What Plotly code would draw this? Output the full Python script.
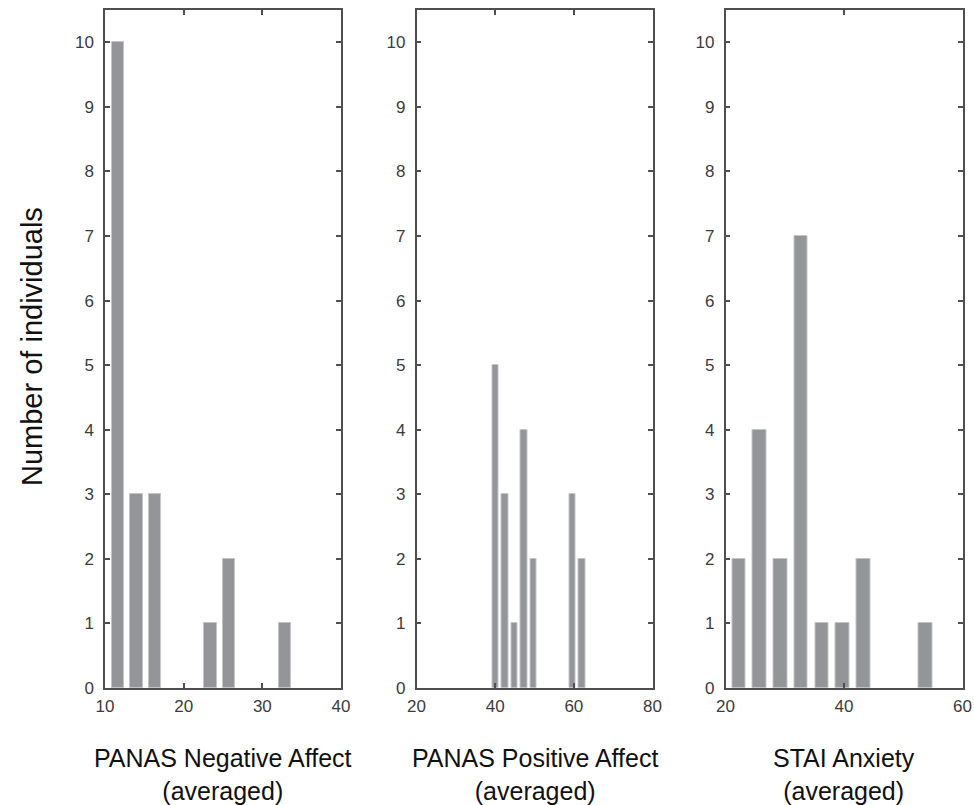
import plotly.graph_objects as go

# Histogram bins (bin centres) and counts for each questionnaire score
neg_centers = [11.65, 14.00, 16.36, 18.71, 21.06, 23.41, 25.77, 28.12, 30.47, 32.83]
neg_counts = [10, 3, 3, 0, 0, 1, 2, 0, 0, 1]
neg_bin_width = 2.35

pos_centers = [40.02, 42.47, 44.92, 47.37, 49.82, 52.27, 54.72, 57.17, 59.62, 62.07]
pos_counts = [5, 3, 1, 4, 2, 0, 0, 0, 3, 2]
pos_bin_width = 2.45

stai_centers = [22.30, 25.79, 29.28, 32.77, 36.26, 39.75, 43.24, 46.73, 50.22, 53.71]
stai_counts = [2, 4, 2, 7, 1, 1, 2, 0, 0, 1]
stai_bin_width = 3.49

x_titles = ["PANAS Negative Affect<br>(averaged)",
            "PANAS Positive Affect<br>(averaged)",
            "STAI Anxiety<br>(averaged)"]
x_ranges = [[10, 40], [20, 80], [20, 60]]
x_dticks = [10, 20, 20]
y_title = "Number of individuals"

W, H = 974, 805
BAR_COLOR = "#939598"
EDGE_COLOR = "#c4c5c7"
AXIS_COLOR = "#4f4f4f"
FONT = "Liberation Sans, Arial, sans-serif"
TICK_FONT = dict(family=FONT, size=17, color="#3c3c3c")

# panel placement in pixels (left, right), shared bottom/top
panel_px = [(105, 341), (416.5, 652.5), (725.5, 962.5)]
bottom_px, top_px = 688, 10

fig = go.Figure()
series = [(neg_centers, neg_counts, neg_bin_width),
          (pos_centers, pos_counts, pos_bin_width),
          (stai_centers, stai_counts, stai_bin_width)]

for i, (centers, counts, bw) in enumerate(series):
    sfx = "" if i == 0 else str(i + 1)
    # empty bins get no outline so nothing is drawn for them
    edge_w = [1 if c > 0 else 0 for c in counts]
    fig.add_trace(go.Bar(
        x=centers, y=counts, width=bw * 0.66,
        marker=dict(color=BAR_COLOR, line=dict(color=EDGE_COLOR, width=edge_w)),
        xaxis="x" + sfx, yaxis="y" + sfx, showlegend=False,
    ))
    left, right = panel_px[i]
    common = dict(
        showline=True, linecolor=AXIS_COLOR, linewidth=1.5, mirror="ticks",
        ticks="inside", ticklen=5, tickwidth=1.5, tickcolor=AXIS_COLOR,
        showgrid=False, zeroline=False, tickfont=TICK_FONT, automargin=False,
    )
    fig.update_layout(**{
        "xaxis" + sfx: dict(
            domain=[left / W, right / W], range=x_ranges[i],
            tick0=x_ranges[i][0], dtick=x_dticks[i], anchor="y" + sfx,
            ticklabelstandoff=2, **common),
        "yaxis" + sfx: dict(
            domain=[1 - bottom_px / H, 1 - top_px / H], range=[0, 10.5],
            tick0=0, dtick=1, anchor="x" + sfx,
            ticklabelstandoff=6, **common),
    })
    fig.add_annotation(
        text=x_titles[i], xref="paper", yref="paper",
        x=(left + right) / 2 / W, y=1 - 774 / H,
        xanchor="center", yanchor="middle", showarrow=False,
        font=dict(family=FONT, size=25, color="#111111"),
    )

fig.add_annotation(
    text=y_title, xref="paper", yref="paper",
    x=32 / W, y=1 - 347 / H, textangle=-90,
    xanchor="center", yanchor="middle", showarrow=False,
    font=dict(family=FONT, size=29, color="#111111"),
)

fig.update_layout(
    width=W, height=H, margin=dict(l=0, r=0, t=0, b=0, autoexpand=False),
    plot_bgcolor="white", paper_bgcolor="white", bargap=0,
)

fig.write_html("out.html")
